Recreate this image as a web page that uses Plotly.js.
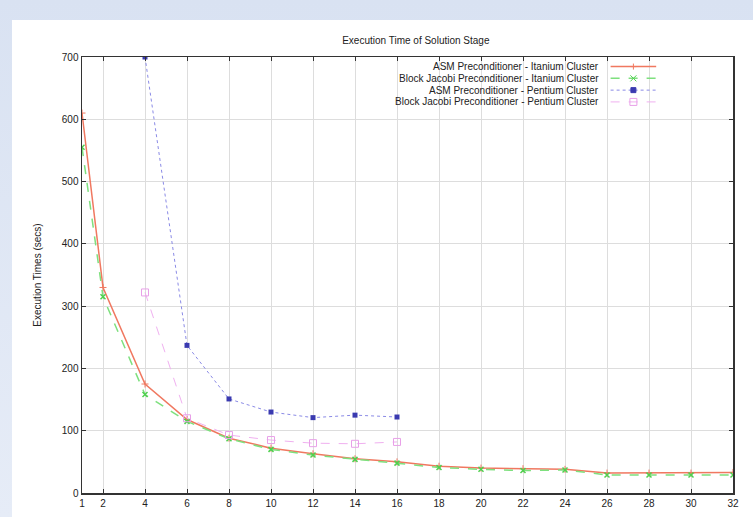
<!DOCTYPE html>
<html>
<head>
<meta charset="utf-8">
<script src="https://cdn.plot.ly/plotly-3.0.1.min.js"></script>
<style>
  html, body { margin: 0; padding: 0; width: 753px; height: 517px; overflow: hidden;
    background: linear-gradient(180deg, #d9e2f2 0%, #e6ecf7 100%); }
  #chart { position: absolute; left: 12px; top: 20px; width: 741px; height: 497px; }
</style>
</head>
<body>
<div id="chart"></div>
<script>
const xTicks = [1, 2, 4, 6, 8, 10, 12, 14, 16, 18, 20, 22, 24, 26, 28, 30, 32];

const asmItaniumX = [1, 2, 4, 6, 8, 10, 12, 14, 16, 18, 20, 22, 24, 26, 28, 30, 32];
const asmItaniumY = [610, 330, 175, 118, 88, 72, 63, 55, 50, 43, 40, 39, 38, 32, 32, 32, 33];

const bjItaniumX = [1, 2, 4, 6, 8, 10, 12, 14, 16, 18, 20, 22, 24, 26, 28, 30, 32];
const bjItaniumY = [555, 315, 158, 115, 87, 70, 61, 54, 48, 41, 38, 36, 37, 29, 29, 29, 29];

const asmPentiumX = [4, 6, 8, 10, 12, 14, 16];
const asmPentiumY = [700, 237, 151, 130, 121, 125, 122];

const bjPentiumX = [4, 6, 8, 10, 12, 14, 16];
const bjPentiumY = [322, 120, 93, 85, 80, 79, 82];

const names = [
  'ASM Preconditioner - Itanium Cluster',
  'Block Jacobi Preconditioner - Itanium Cluster',
  'ASM Preconditioner - Pentium Cluster',
  'Block Jacobi Preconditioner - Pentium Cluster'
];

const colors = ['#f07860', '#50d050', '#3a3ab0', '#e8a0e8'];
const lineColors = ['#f07860', '#7ee07e', '#8a8ae6', '#f0b0f0'];
const dashes = ['solid', 'dash', 'dot', 'dash'];

const traces = [
  { x: asmItaniumX, y: asmItaniumY, name: names[0], mode: 'lines+markers',
    line: { color: lineColors[0], width: 1.5 },
    marker: { symbol: 'cross-thin-open', size: 5, color: colors[0], line: { width: 1, color: colors[0] } } },
  { x: bjItaniumX, y: bjItaniumY, name: names[1], mode: 'lines+markers',
    line: { color: lineColors[1], width: 1.5, dash: dashes[1] },
    marker: { symbol: 'x-thin-open', size: 5, color: colors[1], line: { width: 1.5, color: colors[1] } } },
  { x: asmPentiumX, y: asmPentiumY, name: names[2], mode: 'lines+markers',
    line: { color: lineColors[2], width: 1, dash: dashes[2] },
    marker: { symbol: 'square', size: 5, color: colors[2] } },
  { x: bjPentiumX, y: bjPentiumY, name: names[3], mode: 'lines+markers',
    line: { color: lineColors[3], width: 1, dash: dashes[3] },
    marker: { symbol: 'square-open', size: 7, color: colors[3], line: { width: 1 } } }
];

// Gnuplot-style key: right-aligned text with line sample on the right
const keyTextX = 0.797, keyLineX0 = 0.812, keyLineX1 = 0.882, keyMarkX = 0.847;
const keyRows = [0.978, 0.951, 0.924, 0.897];
const annotations = [];
const shapes = [];
names.forEach((n, i) => {
  annotations.push({ xref: 'paper', yref: 'paper', x: keyTextX, y: keyRows[i], text: n,
    showarrow: false, xanchor: 'right', yanchor: 'middle', font: { size: 10, color: '#222' } });
  shapes.push({ type: 'line', xref: 'paper', yref: 'paper', x0: keyLineX0, x1: keyLineX1,
    y0: keyRows[i], y1: keyRows[i], line: { color: lineColors[i], width: i < 2 ? 1.5 : 1, dash: dashes[i] } });
});
// key marker glyphs (pixel-sized around anchor)
const mk = (path, i, fill) => ({ type: 'path', xref: 'paper', yref: 'paper', xsizemode: 'pixel', ysizemode: 'pixel',
  xanchor: keyMarkX, yanchor: keyRows[i], path: path, line: { color: colors[i], width: 1 },
  fillcolor: fill ? colors[i] : 'rgba(0,0,0,0)' });
shapes.push(mk('M-3,0 L3,0 M0,-3 L0,3', 0, false));
shapes.push(mk('M-3,-3 L3,3 M-3,3 L3,-3', 1, false));
shapes.push(mk('M-2.5,-2.5 L2.5,-2.5 L2.5,2.5 L-2.5,2.5 Z', 2, true));
shapes.push(mk('M-3.5,-3.5 L3.5,-3.5 L3.5,3.5 L-3.5,3.5 Z', 3, false));

const layout = {
  width: 741, height: 497,
  margin: { l: 70, r: 20, t: 37, b: 24 },
  paper_bgcolor: '#ffffff',
  plot_bgcolor: '#ffffff',
  font: { family: 'Liberation Sans, Arial, sans-serif', size: 10, color: '#222' },
  title: { text: 'Execution Time of Solution Stage', x: 0.545, xanchor: 'center', y: 0.965, yanchor: 'top',
    font: { size: 10, color: '#222' } },
  xaxis: {
    range: [1, 32], tickvals: xTicks, ticktext: xTicks.map(String),
    showgrid: true, gridcolor: '#dddddd', gridwidth: 1,
    zeroline: false, showline: true, linecolor: '#333', linewidth: 1.5, mirror: 'ticks',
    ticks: 'inside', ticklen: 4, tickcolor: '#333',
    tickfont: { size: 10 }
  },
  yaxis: {
    range: [0, 700], dtick: 100, tick0: 0,
    showgrid: true, gridcolor: '#dddddd', gridwidth: 1,
    zeroline: false, showline: true, linecolor: '#333', linewidth: 1.5, mirror: 'ticks',
    ticks: 'inside', ticklen: 4, tickcolor: '#333',
    tickfont: { size: 10 },
    title: { text: 'Execution Times (secs)', font: { size: 10 }, standoff: 18 }
  },
  annotations: annotations,
  shapes: shapes,
  showlegend: false
};

Plotly.newPlot('chart', traces, layout, { displayModeBar: false, staticPlot: true });
</script>
</body>
</html>
